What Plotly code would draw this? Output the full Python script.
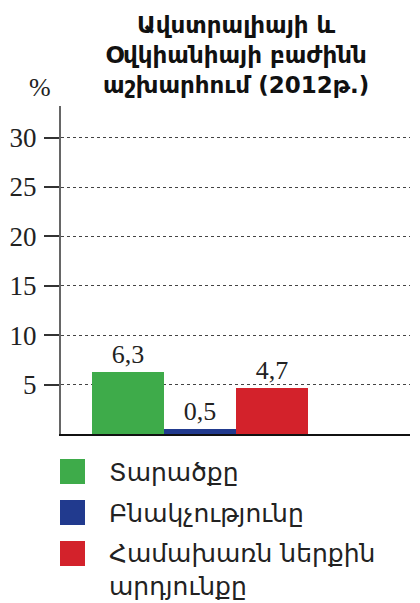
import plotly.graph_objects as go

# Share of Australia and Oceania in the world, 2012 (%)
categories = ["Տարածքը", "Բնակչությունը", "Համախառն ներքին<br>արդյունքը"]
values = [6.3, 0.5, 4.7]
colors = ["#3eab4a", "#213a8e", "#d3222b"]
y_ticks = [5, 10, 15, 20, 25, 30]

W, H = 420, 603
ML, MR, MT, MB = 61, 10, 106, 169

fig = go.Figure()
fig.add_trace(go.Bar(
    x=list(range(len(values))),
    y=values,
    width=1.0,
    marker=dict(color=colors, line=dict(width=0)),
    text=[f"{v}".replace(".", ",") for v in values],
    textposition="outside",
    cliponaxis=False,
    textfont=dict(family="Liberation Serif", size=26, color="#222"),
    showlegend=False,
))

def px_x(p):
    return (p - ML) / (W - ML - MR)

def px_y(p):
    return 1 - (p - MT) / (H - MT - MB)

title_lines = ["Ավստրալիայի և", "Օվկիանիայի բաժինն", "աշխարհում (2012թ.)"]
annotations = [
    dict(text="<br>".join(f"<b>{t}</b>" for t in title_lines),
         x=px_x(236), y=px_y(55), xref="paper", yref="paper",
         xanchor="center", yanchor="middle", showarrow=False, align="center",
         font=dict(family="DejaVu Sans", size=23, color="#111")),
    dict(text="%", x=px_x(40), y=px_y(88), xref="paper", yref="paper",
         xanchor="center", yanchor="middle", showarrow=False,
         font=dict(family="Liberation Serif", size=26, color="#222")),
]

shapes = []
# legend: swatch + label for each category
swatch_tops = [459, 500, 541]
label_centers = [472, 513, 570]
for c, name, top, lc in zip(colors, categories, swatch_tops, label_centers):
    shapes.append(dict(type="rect", xref="paper", yref="paper",
                       x0=px_x(60), x1=px_x(85), y0=px_y(top), y1=px_y(top + 25),
                       fillcolor=c, line=dict(width=0)))
    annotations.append(dict(text=name, x=px_x(107), y=px_y(lc), xref="paper", yref="paper",
                            xanchor="left", yanchor="middle", showarrow=False, align="left",
                            font=dict(family="DejaVu Sans", size=25, color="#222")))

fig.update_layout(
    width=W, height=H,
    margin=dict(l=ML, r=MR, t=MT, b=MB),
    paper_bgcolor="white", plot_bgcolor="white",
    bargap=0,
    xaxis=dict(range=[-0.93, 3.92], showticklabels=False, ticks="", showgrid=False,
               automargin=False,
               zeroline=False, showline=True, linecolor="#111", linewidth=2, fixedrange=True),
    yaxis=dict(range=[0, 33.2], tickvals=y_ticks, ticktext=[str(t) for t in y_ticks],
               automargin=False,
               ticks="outside", ticklen=15, tickwidth=2, tickcolor="#333",
               ticklabelstandoff=2,
               tickfont=dict(family="Liberation Serif", size=27, color="#222"),
               showgrid=True, gridcolor="#444", griddash="3px,3px", gridwidth=1.4,
               zeroline=False, showline=True, linecolor="#666", linewidth=2, fixedrange=True),
    annotations=annotations,
    shapes=shapes,
    showlegend=False,
)

fig.write_html("out.html")
